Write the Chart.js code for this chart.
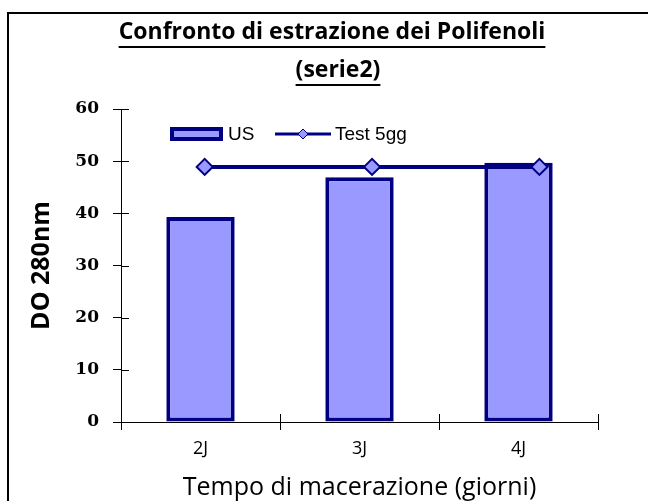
<!DOCTYPE html>
<html>
<head>
<meta charset="utf-8">
<script src="https://cdn.jsdelivr.net/npm/chart.js@4.4.1/dist/chart.umd.min.js"></script>
<style>
html, body { margin: 0; padding: 0; background: #fff; }
canvas { display: block; }
</style>
</head>
<body>
<canvas id="grafico" width="648" height="501"></canvas>
<script>
// dati
const giorni = ['2J', '3J', '4J'];
const valoriUS = [39.3, 46.9, 49.7];
const valoriTest5gg = [48.9, 48.9, 48.9];
const tickY = [0, 10, 20, 30, 40, 50, 60];
const titolo = ['Confronto di estrazione dei Polifenoli', '(serie2)'];

const BLU = '#000080';
const LILLA = '#9999ff';
const FONT_TESTO = '"Open Sans", Lato, sans-serif';

// cornice esterna (solo lato alto e sinistro visibili)
const cornice = {
    id: 'cornice',
    beforeDraw(chart) {
        const ctx = chart.ctx;
        ctx.save();
        ctx.fillStyle = '#fff';
        ctx.fillRect(0, 0, chart.width, chart.height);
        ctx.strokeStyle = '#000';
        ctx.lineWidth = 2;
        ctx.beginPath();
        ctx.moveTo(8, chart.height);
        ctx.lineTo(8, 13);
        ctx.lineTo(chart.width, 13);
        ctx.stroke();
        ctx.restore();
    }
};

// titolo sottolineato su due righe
const titoloSottolineato = {
    id: 'titoloSottolineato',
    afterDraw(chart) {
        const ctx = chart.ctx;
        const righe = [{ x: 332, y: 39 }, { x: 338, y: 77 }];
        ctx.save();
        ctx.font = 'bold 23px ' + FONT_TESTO;
        ctx.fillStyle = '#000';
        ctx.textAlign = 'center';
        ctx.textBaseline = 'alphabetic';
        titolo.forEach((t, i) => {
            const r = righe[i];
            ctx.fillText(t, r.x, r.y);
            const w = ctx.measureText(t).width;
            ctx.fillRect(r.x - w / 2, r.y + 7, w, 2);
        });
        ctx.restore();
    }
};

// tacche che attraversano gli assi
const tacche = {
    id: 'tacche',
    afterDraw(chart) {
        const { ctx, scales: { x, y } } = chart;
        ctx.save();
        ctx.strokeStyle = '#000';
        ctx.lineWidth = 1;
        ctx.beginPath();
        tickY.forEach(v => {
            const py = Math.round(y.getPixelForValue(v)) + 0.5;
            ctx.moveTo(x.left, py);
            ctx.lineTo(x.left + 8, py);
        });
        const passo = x.getPixelForValue(1) - x.getPixelForValue(0);
        for (let i = 0; i <= giorni.length; i++) {
            const px = Math.round(x.getPixelForValue(i) - passo / 2) + 0.5;
            ctx.moveTo(px, y.bottom);
            ctx.lineTo(px, y.bottom - 8);
        }
        ctx.stroke();
        ctx.restore();
    }
};

// legenda dentro l'area del grafico
const legenda = {
    id: 'legenda',
    afterDraw(chart) {
        const ctx = chart.ctx;
        const [us, test] = chart.data.datasets;
        const yl = 134;
        ctx.save();
        ctx.fillStyle = us.backgroundColor;
        ctx.strokeStyle = us.borderColor;
        ctx.lineWidth = 4;
        ctx.fillRect(172, yl - 5, 49, 10);
        ctx.strokeRect(172, yl - 5, 49, 10);

        ctx.strokeStyle = test.borderColor;
        ctx.lineWidth = 3;
        ctx.beginPath();
        ctx.moveTo(275, yl);
        ctx.lineTo(331, yl);
        ctx.stroke();
        ctx.fillStyle = test.pointBackgroundColor;
        ctx.strokeStyle = test.pointBorderColor;
        ctx.lineWidth = 1;
        ctx.beginPath();
        ctx.moveTo(303, yl - 5); ctx.lineTo(308, yl); ctx.lineTo(303, yl + 5); ctx.lineTo(298, yl);
        ctx.closePath();
        ctx.fill();
        ctx.stroke();

        ctx.fillStyle = '#000';
        ctx.font = '19px "Liberation Sans", Arial, sans-serif';
        ctx.textBaseline = 'middle';
        ctx.textAlign = 'left';
        ctx.fillText(us.label, 228, yl + 1);
        ctx.fillText(test.label, 335, yl + 1);
        ctx.restore();
    }
};

new Chart(document.getElementById('grafico'), {
    type: 'bar',
    data: {
        labels: giorni,
        datasets: [
            {
                type: 'bar',
                label: 'US',
                data: valoriUS,
                backgroundColor: LILLA,
                borderColor: BLU,
                borderWidth: 4,
                borderSkipped: false,
                grouped: false,
                categoryPercentage: 1,
                barPercentage: 0.43,
                order: 1
            },
            {
                type: 'line',
                label: 'Test 5gg',
                data: valoriTest5gg.map((v, i) => ({ x: i, y: v })),
                xAxisID: 'x2',
                borderColor: BLU,
                borderWidth: 4,
                pointStyle: 'rectRot',
                pointRadius: 8,
                pointBorderWidth: 2,
                pointBackgroundColor: LILLA,
                pointBorderColor: BLU,
                order: 0
            }
        ]
    },
    options: {
        responsive: false,
        animation: false,
        layout: { padding: { top: 109, right: 50, left: 0, bottom: 0 } },
        plugins: {
            legend: { display: false },
            title: { display: false },
            tooltip: { enabled: false }
        },
        scales: {
            x: {
                type: 'category',
                offset: true,
                afterFit: s => { s.height = 79; },
                grid: {
                    offset: true,
                    drawOnChartArea: false,
                    tickLength: 8,
                    color: '#000'
                },
                border: { color: '#000', width: 1 },
                ticks: {
                    color: '#000',
                    padding: 8,
                    font: { family: FONT_TESTO, size: 18 }
                },
                title: {
                    display: true,
                    text: 'Tempo di macerazione (giorni)',
                    color: '#000',
                    font: { family: FONT_TESTO, size: 25 },
                    padding: { top: 0, bottom: -2 }
                }
            },
            x2: {
                type: 'linear',
                display: false,
                offset: false,
                grid: { offset: false },
                min: -0.5,
                max: 2.35
            },
            y: {
                min: 0,
                max: 60,
                afterFit: s => { s.width = 121; },
                afterBuildTicks: s => { s.ticks = tickY.map(v => ({ value: v })); },
                grid: {
                    drawOnChartArea: false,
                    tickLength: 8,
                    color: '#000'
                },
                border: { color: '#000', width: 1 },
                ticks: {
                    color: '#000',
                    padding: 14,
                    font: { family: '"DejaVu Serif", "Liberation Serif", serif', size: 17, weight: 'bold' }
                },
                title: {
                    display: true,
                    text: 'DO 280nm',
                    color: '#000',
                    font: { family: FONT_TESTO, size: 25, weight: 'bold' },
                    padding: { top: 27, bottom: 0 }
                }
            }
        }
    },
    plugins: [cornice, titoloSottolineato, tacche, legenda]
});
</script>
</body>
</html>
